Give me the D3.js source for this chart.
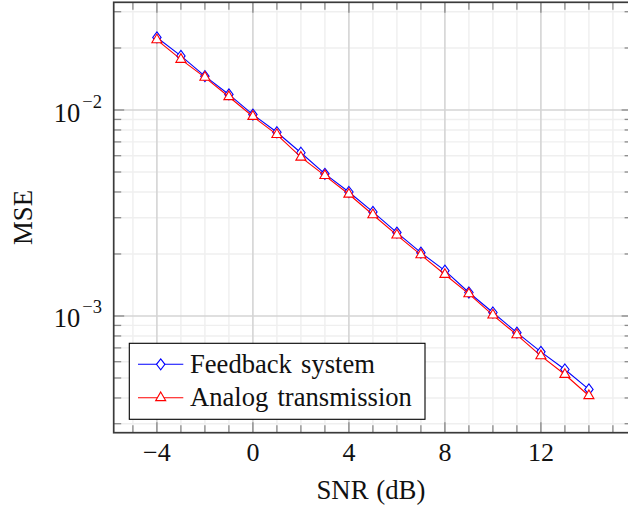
<!DOCTYPE html>
<html>
<head>
<meta charset="utf-8">
<script src="https://cdn.jsdelivr.net/npm/d3@7"></script>
<style>
  html, body { margin: 0; padding: 0; background: #fff; }
  svg { display: block; font-family: "Liberation Serif", "DejaVu Serif", serif; }
</style>
</head>
<body>
<svg id="chart" width="628" height="508"></svg>
<script>
// ---- data ----
const snrDb = [-4, -3, -2, -1, 0, 1, 2, 3, 4, 5, 6, 7, 8, 9, 10, 11, 12, 13, 14];
const feedbackMse = [0.0225, 0.0183, 0.0146, 0.0119, 0.0095, 0.0078, 0.0062, 0.0049, 0.0040, 0.0032,
                     0.00254, 0.00203, 0.00166, 0.00130, 0.00104, 0.00083, 0.00067, 0.00055, 0.00044];
const analogMse = [0.0219, 0.0176, 0.0144, 0.0116, 0.0093, 0.0076, 0.0059, 0.0048, 0.0039, 0.0031,
                   0.00247, 0.00198, 0.00159, 0.00128, 0.00101, 0.00081, 0.00064, 0.00052, 0.00041];
const seriesNames = ["Feedback system", "Analog transmission"];
const xTickValues = [-4, 0, 4, 8, 12];
const xMinorValues = [-5, -3, -2, -1, 1, 2, 3, 5, 6, 7, 9, 10, 11, 13, 14, 15];
const yMajorExponents = [-2, -3];
const xLabel = "SNR (dB)";
const yLabel = "MSE";

// ---- layout ----
const svg = d3.select("#chart");
const L = 113.7, R = 632.1, T = 2.3, B = 432.7;
const x = d3.scaleLinear().domain([-5.8, 15.8]).range([L, R]);
const y = d3.scaleLog().domain([2.713e-4, 0.03333]).range([B, T]);

const yMajor = yMajorExponents.map(e => Math.pow(10, e));
const yMinor = [];
[-4, -3, -2].forEach(e => { for (let m = 2; m <= 9; m++) { const v = m * Math.pow(10, e); if (v >= y.domain()[0] && v <= y.domain()[1]) yMinor.push(v); } });

const grid = svg.append("g");
// minor grid
grid.selectAll(".gxm").data(xMinorValues).join("line")
  .attr("x1", d => x(d)).attr("x2", d => x(d)).attr("y1", T).attr("y2", B)
  .attr("stroke", "#efefef").attr("stroke-width", 1.4);
grid.selectAll(".gym").data(yMinor).join("line")
  .attr("x1", L).attr("x2", R).attr("y1", d => y(d)).attr("y2", d => y(d))
  .attr("stroke", "#efefef").attr("stroke-width", 1.4);
// major grid
grid.selectAll(".gxM").data(xTickValues).join("line")
  .attr("x1", d => x(d)).attr("x2", d => x(d)).attr("y1", T).attr("y2", B)
  .attr("stroke", "#d4d4d4").attr("stroke-width", 1.6);
grid.selectAll(".gyM").data(yMajor).join("line")
  .attr("x1", L).attr("x2", R).attr("y1", d => y(d)).attr("y2", d => y(d))
  .attr("stroke", "#d4d4d4").attr("stroke-width", 1.6);

// ticks (inward, on all four sides)
const ticks = svg.append("g").attr("stroke", "#8a8a8a").attr("stroke-width", 1.3);
const tM = 10.5, tm = 7.5;
xTickValues.forEach(v => {
  ticks.append("line").attr("x1", x(v)).attr("x2", x(v)).attr("y1", B).attr("y2", B - tM);
  ticks.append("line").attr("x1", x(v)).attr("x2", x(v)).attr("y1", T).attr("y2", T + tM);
});
xMinorValues.forEach(v => {
  ticks.append("line").attr("x1", x(v)).attr("x2", x(v)).attr("y1", B).attr("y2", B - tm);
  ticks.append("line").attr("x1", x(v)).attr("x2", x(v)).attr("y1", T).attr("y2", T + tm);
});
yMajor.forEach(v => {
  ticks.append("line").attr("x1", L).attr("x2", L + tM).attr("y1", y(v)).attr("y2", y(v));
  ticks.append("line").attr("x1", R).attr("x2", R - tM).attr("y1", y(v)).attr("y2", y(v));
});
yMinor.forEach(v => {
  ticks.append("line").attr("x1", L).attr("x2", L + tm).attr("y1", y(v)).attr("y2", y(v));
  ticks.append("line").attr("x1", R).attr("x2", R - tm).attr("y1", y(v)).attr("y2", y(v));
});

// axis box
svg.append("rect").attr("x", L).attr("y", T).attr("width", R - L).attr("height", B - T)
  .attr("fill", "none").attr("stroke", "#3a3a3a").attr("stroke-width", 1.7);

// x tick labels
svg.append("g").selectAll("text").data(xTickValues).join("text")
  .attr("x", d => x(d)).attr("y", 460.5).attr("text-anchor", "middle")
  .attr("font-size", 26).attr("fill", "#111")
  .text(d => d < 0 ? "\u2212" + Math.abs(d) : String(d));

// y tick labels 10^e
const yl = svg.append("g").selectAll("text").data(yMajorExponents).join("text")
  .attr("x", 102).attr("y", d => y(Math.pow(10, d)) + 11.5).attr("text-anchor", "end")
  .attr("font-size", 26.5).attr("fill", "#111");
yl.append("tspan").text("10");
yl.append("tspan").attr("dx", 2).attr("dy", -14).attr("font-size", 18.5)
  .text(d => "\u2212" + Math.abs(d));

// axis labels
svg.append("text").attr("x", (L + R) / 2 - 2).attr("y", 499).attr("text-anchor", "middle")
  .attr("font-size", 26.8).attr("word-spacing", 1).attr("fill", "#111").text(xLabel);
svg.append("text").attr("transform", `translate(31.5,${(T + B) / 2}) rotate(-90)`)
  .attr("text-anchor", "middle").attr("font-size", 26.8).attr("fill", "#111").text(yLabel);

// markers
function diamond(g, cx, cy, color) {
  const hw = 4.2, hh = 5.5;
  g.append("path").attr("d", `M${cx},${cy - hh}L${cx + hw},${cy}L${cx},${cy + hh}L${cx - hw},${cy}Z`)
    .attr("fill", "#fff").attr("stroke", color).attr("stroke-width", 1.1);
}
function triangle(g, cx, cy, color) {
  const r = 5.8;
  g.append("path").attr("d", `M${cx},${cy - r}L${cx + 0.866 * r},${cy + 0.5 * r}L${cx - 0.866 * r},${cy + 0.5 * r}Z`)
    .attr("fill", "#fff").attr("stroke", color).attr("stroke-width", 1.1);
}

const series = [
  { name: seriesNames[0], values: feedbackMse, color: "#0000ff", mark: diamond },
  { name: seriesNames[1], values: analogMse, color: "#ff0000", mark: triangle }
];
const line = d3.line().x(d => x(d[0])).y(d => y(d[1]));
series.forEach(s => {
  const g = svg.append("g");
  const pts = snrDb.map((v, i) => [v, s.values[i]]);
  g.append("path").datum(pts).attr("d", line).attr("fill", "none")
    .attr("stroke", s.color).attr("stroke-width", 1.1);
  pts.forEach(p => s.mark(g, x(p[0]), y(p[1]), s.color));
});

// legend
const lg = svg.append("g");
lg.append("rect").attr("x", 129.3).attr("y", 343.3).attr("width", 295.7).attr("height", 76)
  .attr("fill", "#fff").attr("stroke", "#000").attr("stroke-width", 1.1);
series.forEach((s, i) => {
  const cy = 364.3 + i * 33.4;
  lg.append("line").attr("x1", 138).attr("x2", 183.3).attr("y1", cy).attr("y2", cy)
    .attr("stroke", s.color).attr("stroke-width", 1.1);
  s.mark(lg, 160.7, cy, s.color);
  lg.append("text").attr("x", 190).attr("y", cy + 8.4).attr("font-size", 26.6)
    .attr("word-spacing", 2.5).attr("fill", "#111").text(s.name);
});
</script>
</body>
</html>
